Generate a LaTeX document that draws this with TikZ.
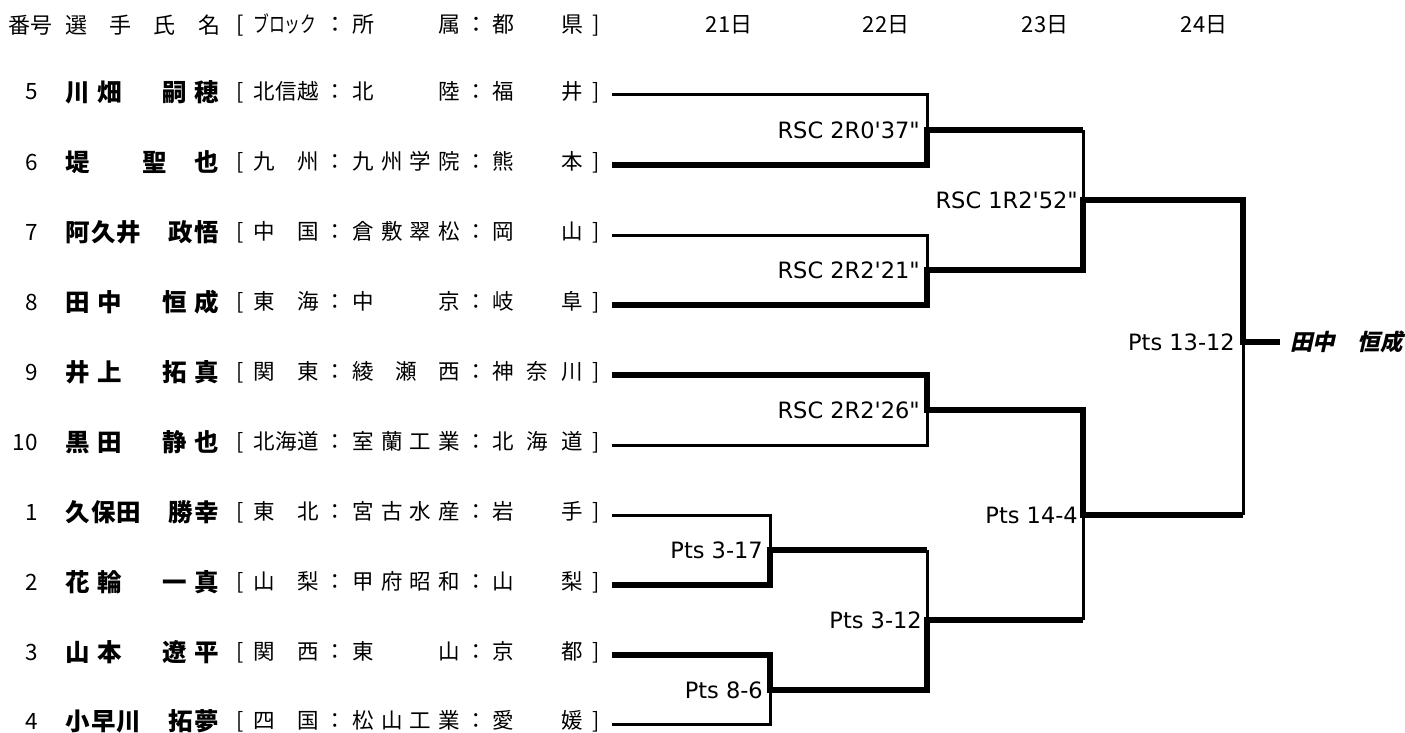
\documentclass[tikz,border=0pt]{standalone}
\usepackage{fontspec}
\usepackage{graphicx}
\usetikzlibrary{positioning, calc}

\newfontfamily\jpfont{Noto Sans CJK JP}
\newfontfamily\champfont{Noto Sans CJK JP}[FakeSlant=0.22]
\newfontfamily\scorefont{DejaVu Sans}[Ligatures=TeXOff]

% spread the characters of a cell over a fixed width
\def\spreaditems#1{\ifx\relax#1\else #1\expandafter\spreadnext\fi}
\def\spreadnext#1{\ifx\relax#1\else\hfill #1\expandafter\spreadnext\fi}
\newcommand\spreadbox[2]{\makebox[#1][s]{\spreaditems#2\relax}}

% [ block : school : prefecture ]
\newcommand\affline[3]{%
  \makebox[17pt][l]{[}\spreadbox{66pt}{#1}\makebox[33pt]{：}%
  \spreadbox{108pt}{#2}\makebox[32pt]{：}\spreadbox{91pt}{#3}%
  \makebox[17pt][r]{]}}

\begin{document}
\begin{tikzpicture}[
    x=1pt, y=-1pt,
    every node/.style={inner sep=0pt},
    headtext/.style={font=\jpfont\fontsize{22}{26}\selectfont},
    numtext/.style={font=\jpfont\fontsize{22.5}{26}\selectfont, anchor=east},
    nametext/.style={font=\jpfont\bfseries\fontsize{24.5}{28}\selectfont,
      anchor=west},
    afftext/.style={font=\jpfont\fontsize{21.5}{26}\selectfont, anchor=west},
    scoretext/.style={font=\scorefont\fontsize{22.5}{27}\selectfont,
      anchor=east},
    champtext/.style={font=\champfont\bfseries\fontsize{22.5}{26}\selectfont,
      anchor=west},
    loss line/.style={line width=3pt},
    win line/.style={line width=6.5pt},
  ]

  \useasboundingbox (0,0) rectangle (1405,733);

  %% ---- header row ----
  \node[headtext, anchor=west] (hnum)  at (8,25)   {番号};
  \node[headtext, anchor=west] (hname) at (65,25)  {\spreadbox{155pt}{選手氏名}};
  \node[headtext, anchor=west] (haff)  at (236,25)
    {\makebox[17pt][l]{[}\makebox[66pt][l]{\scalebox{0.72}[1]{ブロック}}%
     \makebox[33pt]{：}\spreadbox{108pt}{所　属}\makebox[32pt]{：}%
     \spreadbox{91pt}{都　県}\makebox[17pt][r]{]}};
  \node[headtext] (d21) at (729,25)  {21日};
  \node[headtext] (d22) at (886,25)  {22日};
  \node[headtext] (d23) at (1045,25) {23日};
  \node[headtext] (d24) at (1204,25) {24日};

  %% ---- seed numbers ----
  \node[numtext] (k5)  at (38,92)  {5};
  \node[numtext] (k6)  at (38,162) {6};
  \node[numtext] (k7)  at (38,232) {7};
  \node[numtext] (k8)  at (38,302) {8};
  \node[numtext] (k9)  at (38,372) {9};
  \node[numtext] (k10) at (38,442) {10};
  \node[numtext] (k1)  at (38,512) {1};
  \node[numtext] (k2)  at (38,582) {2};
  \node[numtext] (k3)  at (38,652) {3};
  \node[numtext] (k4)  at (38,721) {4};

  %% ---- boxer names ----
  \node[nametext] (n5)  at (65,92)  {\spreadbox{154pt}{川畑　嗣穂}};
  \node[nametext] (n6)  at (65,162) {\spreadbox{154pt}{堤　　聖　也}};
  \node[nametext] (n7)  at (65,232) {\spreadbox{154pt}{阿久井　政悟}};
  \node[nametext] (n8)  at (65,302) {\spreadbox{154pt}{田中　恒成}};
  \node[nametext] (n9)  at (65,372) {\spreadbox{154pt}{井上　拓真}};
  \node[nametext] (n10) at (65,442) {\spreadbox{154pt}{黒田　静也}};
  \node[nametext] (n1)  at (65,512) {\spreadbox{154pt}{久保田　勝幸}};
  \node[nametext] (n2)  at (65,582) {\spreadbox{154pt}{花輪　一真}};
  \node[nametext] (n3)  at (65,652) {\spreadbox{154pt}{山本　遼平}};
  \node[nametext] (n4)  at (65,721) {\spreadbox{154pt}{小早川　拓夢}};

  %% ---- block / school / prefecture ----
  \node[afftext] (a5)  at (236,92)  {\affline{北信越}{北　陸}{福　井}};
  \node[afftext] (a6)  at (236,162) {\affline{九　州}{九州学院}{熊　本}};
  \node[afftext] (a7)  at (236,232) {\affline{中　国}{倉敷翠松}{岡　山}};
  \node[afftext] (a8)  at (236,302) {\affline{東　海}{中　京}{岐　阜}};
  \node[afftext] (a9)  at (236,372) {\affline{関　東}{綾瀬西}{神奈川}};
  \node[afftext] (a10) at (236,442) {\affline{北海道}{室蘭工業}{北海道}};
  \node[afftext] (a1)  at (236,512) {\affline{東　北}{宮古水産}{岩　手}};
  \node[afftext] (a2)  at (236,582) {\affline{山　梨}{甲府昭和}{山　梨}};
  \node[afftext] (a3)  at (236,652) {\affline{関　西}{東　山}{京　都}};
  \node[afftext] (a4)  at (236,721) {\affline{四　国}{松山工業}{愛　媛}};

  %% ---- bracket entry points and match joints ----
  \coordinate (e5)  at (612,95);
  \coordinate (e6)  at (612,165);
  \coordinate (e7)  at (612,235);
  \coordinate (e8)  at (612,305);
  \coordinate (e9)  at (612,375);
  \coordinate (e10) at (612,445);
  \coordinate (e1)  at (612,515);
  \coordinate (e2)  at (612,585);
  \coordinate (e3)  at (612,655);
  \coordinate (e4)  at (612,724);

  % 21st
  \coordinate (mA) at (770,550);
  \coordinate (mB) at (770,690);
  % 22nd
  \coordinate (mC) at (927,130);
  \coordinate (mD) at (927,270);
  \coordinate (mE) at (927,410);
  \coordinate (mF) at (927,620);
  % 23rd
  \coordinate (mG) at (1083,200);
  \coordinate (mH) at (1083,515);
  % 24th
  \coordinate (mI)    at (1243,342);
  \coordinate (champ) at (1280,342);

  %% ---- losing legs (thin) ----
  \draw[loss line] (e5)  -| (mC);
  \draw[loss line] (e7)  -| (mD);
  \draw[loss line] (e10) -| (mE);
  \draw[loss line] (e1)  -| (mA);
  \draw[loss line] (e4)  -| (mB);
  \draw[loss line] (mC -| mG) -- (mG);
  \draw[loss line] (mA -| mF) -- (mF);
  \draw[loss line] (mF -| mH) -- (mH);
  \draw[loss line] (mH -| mI) -- (mI);

  %% ---- winning paths (thick) ----
  \draw[win line] (e6) -| (mC) -- (mC -| mG);
  \draw[win line] (e8) -| (mD) -| (mG) -| (mI) -- (champ);
  \draw[win line] (e9) -| (mE) -| (mH) -- (mH -| mI);
  \draw[win line] (e2) -| (mA) -- (mA -| mF);
  \draw[win line] (e3) -| (mB) -| (mF) -- (mF -| mH);

  %% ---- results ----
  \node[scoretext] (sA) at ([xshift=-7pt]mA) {Pts 3-17};
  \node[scoretext] (sB) at ([xshift=-7pt]mB) {Pts 8-6};
  \node[scoretext] (sC) at ([xshift=-7pt]mC) {RSC 2R0'37"};
  \node[scoretext] (sD) at ([xshift=-7pt]mD) {RSC 2R2'21"};
  \node[scoretext] (sE) at ([xshift=-7pt]mE) {RSC 2R2'26"};
  \node[scoretext] (sF) at ([xshift=-5pt]mF) {Pts 3-12};
  \node[scoretext] (sG) at ([xshift=-5pt]mG) {RSC 1R2'52"};
  \node[scoretext] (sH) at ([xshift=-5pt]mH) {Pts 14-4};
  \node[scoretext] (sI) at ([xshift=-8pt]mI) {Pts 13-12};

  %% ---- champion ----
  \node[champtext] (winner) at ([xshift=10pt]champ) {田中　恒成};

\end{tikzpicture}
\end{document}
